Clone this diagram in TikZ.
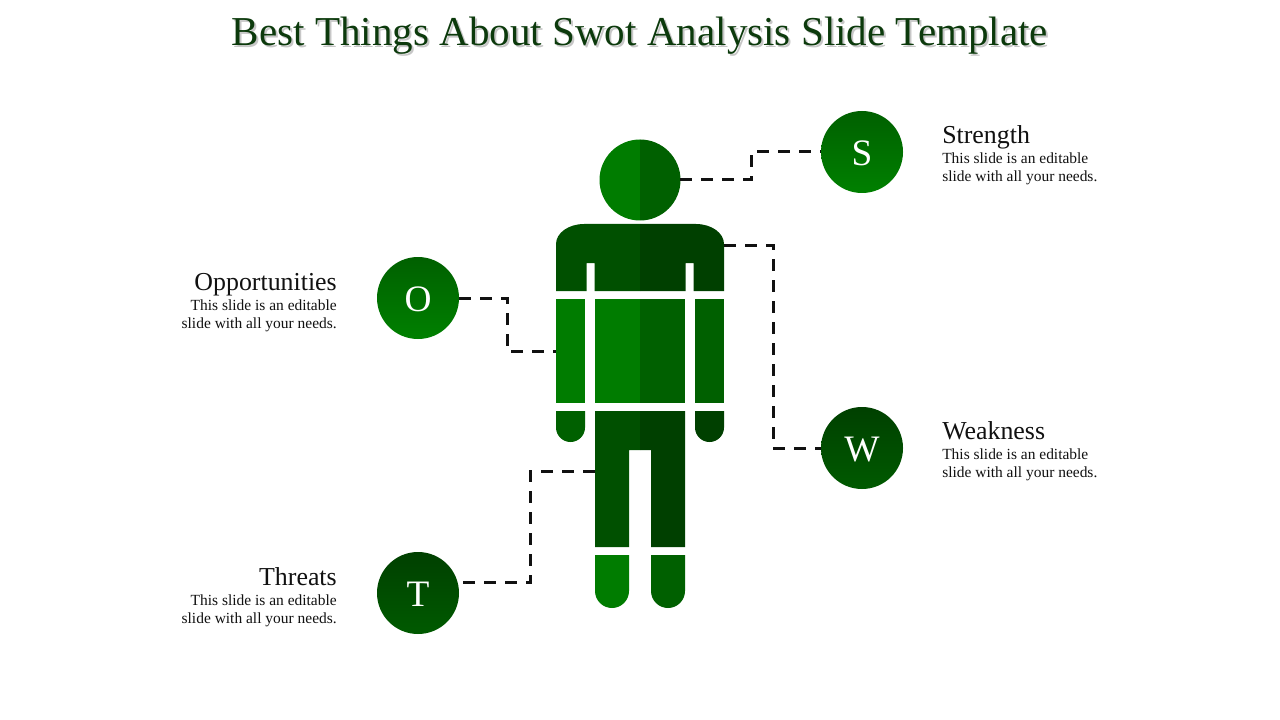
\documentclass[tikz,border=0pt]{standalone}
\usepackage{fontspec}
\setmainfont{Liberation Serif}
\definecolor{gA}{HTML}{007C00}
\definecolor{gB}{HTML}{006000}
\definecolor{gC}{HTML}{005000}
\definecolor{gD}{HTML}{004000}
\definecolor{gE}{HTML}{005A00}
\definecolor{gF}{HTML}{008000}
\definecolor{gT}{HTML}{0C3A0C}
\definecolor{ink}{HTML}{111111}
\tikzset{
  x=0.75pt,y=-0.75pt,
  badge/.style={circle,minimum size=61.5pt,inner sep=0pt,text=white},
  badgelight/.style={badge,top color=gB,bottom color=gF},
  badgedark/.style={badge,top color=gD,bottom color=gE},
  letter/.style={text=white,font=\fontsize{28}{28}\selectfont,inner sep=0pt},
  headnode/.style={circle,minimum size=60pt,inner sep=0pt},
  head/.style={font=\fontsize{19.4}{22}\selectfont,text=ink},
  body/.style={font=\fontsize{11.6}{13.5}\selectfont,text=ink},
  link/.style={draw=ink,line width=2.25pt,dash pattern=on 9pt off 6.75pt},
  titletext/.style={font=\fontsize{30.8}{34}\selectfont}
}
\begin{document}
\begin{tikzpicture}
\useasboundingbox (0,0) rectangle (1280,720);
\fill[white] (0,0) rectangle (1280,720);
% title
\node[titletext,text=black!22,anchor=base] at (642,47.5) {Best Things About Swot Analysis Slide Template};
\node[titletext,text=gT,anchor=base] (title) at (640,45.5) {Best Things About Swot Analysis Slide Template};
% head
\node[headnode] (headc) at (640,180) {};
\fill[gA] (640,139.5) arc[start angle=-90,end angle=-270,radius=40.5];
\fill[gB] (640,139.5) arc[start angle=-90,end angle=90,radius=40.5];
% shoulders
\fill[gC] (640,224) -- (584,224) arc[start angle=-90,end angle=-180,x radius=28,y radius=20] -- (556,291) -- (586.5,291) -- (586.5,263) -- (594.5,263) -- (594.5,291) -- (640,291) -- cycle;
\fill[gD] (640,224) -- (696,224) arc[start angle=-90,end angle=0,x radius=28,y radius=20] -- (724,291) -- (693.5,291) -- (693.5,263) -- (685.5,263) -- (685.5,291) -- (640,291) -- cycle;
% arms and torso
\fill[gA] (556,299) rectangle (585,403);
\fill[gA] (595,299) rectangle (640,403);
\fill[gB] (640,299) rectangle (685,403);
\fill[gB] (695,299) rectangle (724,403);
% hands
\fill[gB] (556,411) -- (585,411) -- (585,427.5) arc[start angle=0,end angle=180,radius=14.5] -- cycle;
\fill[gD] (695,411) -- (724,411) -- (724,427.5) arc[start angle=0,end angle=180,radius=14.5] -- cycle;
% hips and legs
\fill[gC] (595,411) -- (640,411) -- (640,450) -- (629,450) -- (629,547) -- (595,547) -- cycle;
\fill[gD] (640,411) -- (685,411) -- (685,547) -- (651,547) -- (651,450) -- (640,450) -- cycle;
% feet
\fill[gA] (595,555) -- (629,555) -- (629,591) arc[start angle=0,end angle=180,radius=17] -- cycle;
\fill[gB] (651,555) -- (685,555) -- (685,591) arc[start angle=0,end angle=180,radius=17] -- cycle;
% anchors on the figure
\coordinate (shoulderR) at (724,245);
\coordinate (armL) at (556,351);
\coordinate (legL) at (595,471);
% badges
\node[badgelight] (S) at (862,152) {};
\node[badgelight] (O) at (418,298) {};
\node[badgedark] (W) at (862,448) {};
\node[badgedark] (T) at (418,593) {};
\node[letter] (Sl) at (862,153.5) {S};
\node[letter] (Ol) at (418,299.5) {O};
\node[letter] (Wl) at (862,449.5) {W};
\node[letter] (Tl) at (418,594.5) {T};
\coordinate (Tout) at (463,582);
% connectors
\draw[link] (headc.east) -- (751,180) -- (751,152) -- (S.west);
\draw[link] (shoulderR) -- (773,245) -- (773,448) -- (W.west);
\draw[link] (O.east) -- (507,298) -- (507,351) -- (armL);
\draw[link] (Tout) -- (530.5,582) -- (530.5,471) -- (legL);
% labels
\node[head,anchor=base west,inner sep=0pt] (sh) at (942,144) {Strength};
\node[body,anchor=base west,inner sep=0pt,align=left] (sb) at (942,182) {This slide is an editable\\slide with all your needs.};
\node[head,anchor=base west,inner sep=0pt] (wh) at (942,439) {Weakness};
\node[body,anchor=base west,inner sep=0pt,align=left] (wb) at (942,477) {This slide is an editable\\slide with all your needs.};
\node[head,anchor=base east,inner sep=0pt] (oh) at (337,290) {Opportunities};
\node[body,anchor=base east,inner sep=0pt,align=right] (ob) at (337,328) {This slide is an editable\\slide with all your needs.};
\node[head,anchor=base east,inner sep=0pt] (th) at (337,585) {Threats};
\node[body,anchor=base east,inner sep=0pt,align=right] (tb) at (337,623) {This slide is an editable\\slide with all your needs.};
\end{tikzpicture}
\end{document}
